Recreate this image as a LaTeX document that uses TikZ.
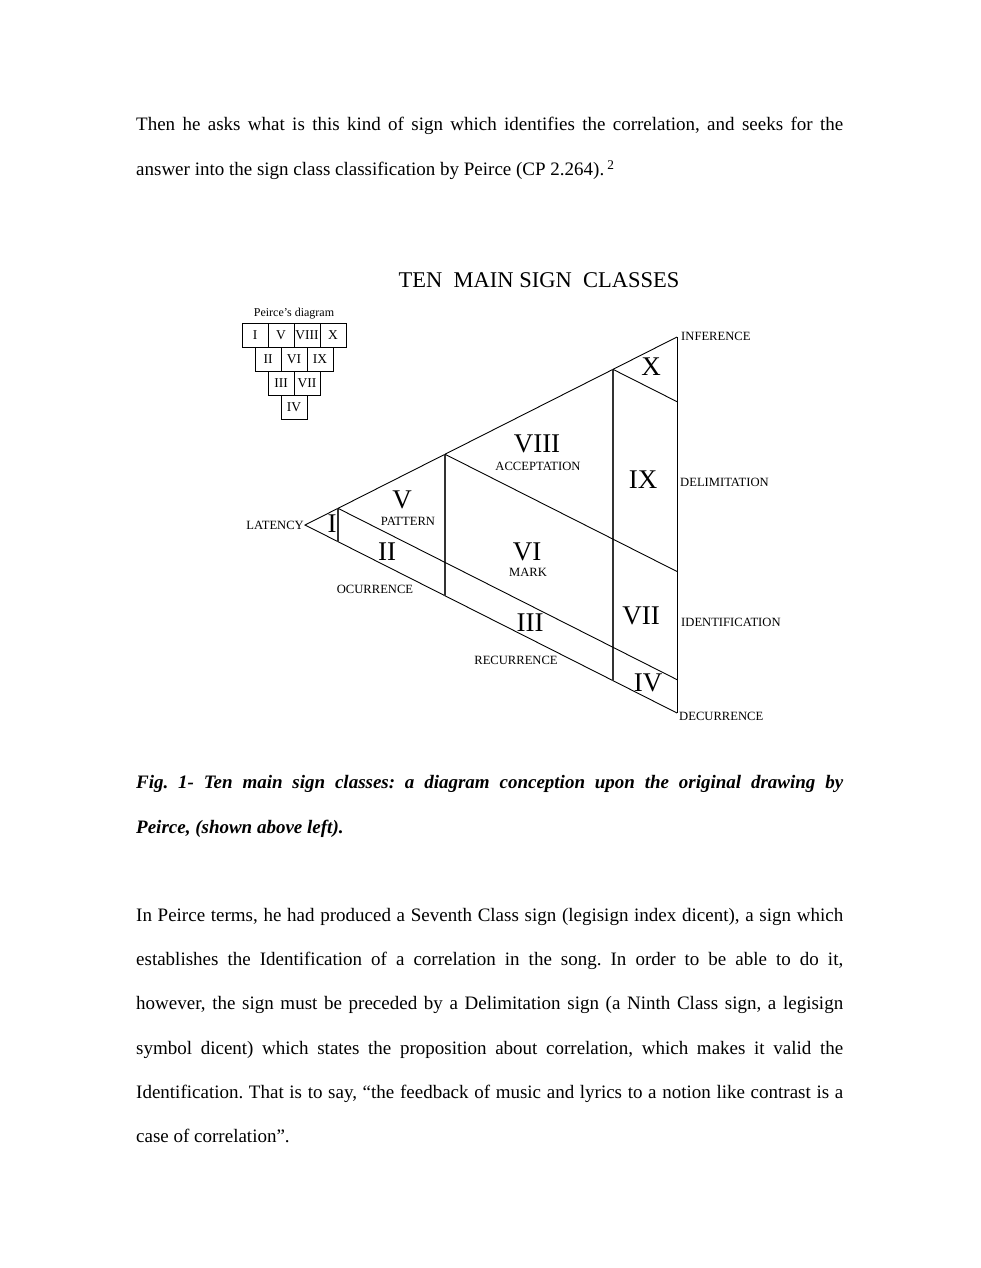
\documentclass[tikz,border=0pt]{standalone}
\usepackage{fontspec}
\setmainfont{Liberation Serif}
\usetikzlibrary{calc}
\frenchspacing
\begin{document}
\begin{tikzpicture}[x=1pt,y=-1pt,
  body/.style={anchor=base west,inner sep=0pt,font=\fontsize{19}{22}\selectfont\frenchspacing},
  captext/.style={anchor=base west,inner sep=0pt,font=\fontsize{19}{22}\selectfont\bfseries\itshape\frenchspacing},
  roman/.style={inner sep=0pt,font=\fontsize{27}{30}\selectfont},
  lbl/.style={inner sep=0pt,font=\fontsize{12.6}{14}\selectfont},
  pbox/.style={draw,line width=0.8pt,minimum width=26pt,minimum height=24pt,inner sep=0pt,font=\fontsize{13.5}{14}\selectfont},
  edgeline/.style={line width=0.9pt},
  vline/.style={line width=1.3pt,black!80}]
\fill[white] (0,0) rectangle (980,1268);
\useasboundingbox (0,0) rectangle (980,1268);

% top paragraph
\node[body] (t1) at (136,131) {\makebox[707pt][s]{Then he asks what is this kind of sign which identifies the correlation, and seeks for the}};
\node[body] (t2) at (136,176) {answer into the sign class classification by Peirce (CP 2.264).\,\textsuperscript{2}};

% title
\node[inner sep=0pt,font=\fontsize{22.5}{24}\selectfont] (title) at (539,280) {TEN\ \ MAIN SIGN\ \ CLASSES};

% Peirce's diagram
\node[inner sep=0pt,font=\fontsize{12}{14}\selectfont,anchor=base] (plabel) at (294,316) {Peirce's diagram};
\node[pbox] (p1) at (255,335) {I};
\node[pbox] (p5) at (281,335) {V};
\node[pbox] (p8) at (307,335) {VIII};
\node[pbox] (p10) at (333,335) {X};
\node[pbox] (p2) at (268,359) {II};
\node[pbox] (p6) at (294,359) {VI};
\node[pbox] (p9) at (320,359) {IX};
\node[pbox] (p3) at (281,383) {III};
\node[pbox] (p7) at (307,383) {VII};
\node[pbox] (p4) at (294,407) {IV};

% triangle
\coordinate (A) at (305,525);
\coordinate (T) at (677,337);
\coordinate (B) at (677,713);
\coordinate (V1t) at ($(A)!0.08871!(T)$);
\coordinate (V1b) at ($(A)!0.08871!(B)$);
\coordinate (V2t) at ($(A)!0.37634!(T)$);
\coordinate (V2b) at ($(A)!0.37634!(B)$);
\coordinate (V3t) at ($(A)!0.82796!(T)$);
\coordinate (V3b) at ($(A)!0.82796!(B)$);
\coordinate (E1) at ($(T)!0.91129!(B)$);
\coordinate (E2) at ($(T)!0.62366!(B)$);
\coordinate (E3) at ($(T)!0.17204!(B)$);

\draw[edgeline] (T) -- (A) -- (B);
\draw[edgeline] (T) -- (B);
\draw[vline] (V1t) -- (V1b);
\draw[vline] (V2t) -- (V2b);
\draw[vline] (V3t) -- (V3b);
\draw[edgeline] (V1t) -- (E1);
\draw[edgeline] (V2t) -- (E2);
\draw[edgeline] (V3t) -- (E3);

% roman numerals
\node[roman] (rI) at (332,524) {I};
\node[roman] (rV) at (402,500) {V};
\node[roman] (rII) at (387,552) {II};
\node[roman] (rVIII) at (537,444) {VIII};
\node[roman] (rVI) at (527,552) {VI};
\node[roman] (rIII) at (530,623) {III};
\node[roman] (rX) at (651,367) {X};
\node[roman] (rIX) at (643,480) {IX};
\node[roman] (rVII) at (641,616) {VII};
\node[roman] (rIV) at (648,683) {IV};

% class labels
\node[lbl] (pattern) at (408,521) {PATTERN};
\node[lbl] (ocur) at (375,589) {OCURRENCE};
\node[lbl] (accept) at (538,466) {ACCEPTATION};
\node[lbl] (mark) at (528,572) {MARK};
\node[lbl] (recur) at (516,660) {RECURRENCE};

% vertex / side labels
\node[lbl,anchor=base east] (latency) at (304,529) {LATENCY};
\node[lbl,anchor=base west] (infer) at (681,340) {INFERENCE};
\node[lbl,anchor=base west] (delim) at (680,486) {DELIMITATION};
\node[lbl,anchor=base west] (ident) at (681,626) {IDENTIFICATION};
\node[lbl,anchor=base west] (decur) at (679,720) {DECURRENCE};

% caption
\node[captext] (c1) at (136,788) {\makebox[707pt][s]{Fig. 1- Ten main sign classes: a diagram conception upon the original drawing by}};
\node[captext] (c2) at (136,833) {Peirce, (shown above left).};

% bottom paragraph
\node[body] (b1) at (136,921) {\makebox[707pt][s]{In Peirce terms, he had produced a Seventh Class sign (legisign index dicent), a sign which}};
\node[body] (b2) at (136,965) {\makebox[707pt][s]{establishes the Identification of a correlation in the song. In order to be able to do it,}};
\node[body] (b3) at (136,1009.5) {\makebox[707pt][s]{however, the sign must be preceded by a Delimitation sign (a Ninth Class sign, a legisign}};
\node[body] (b4) at (136,1054) {\makebox[707pt][s]{symbol dicent) which states the proposition about correlation, which makes it valid the}};
\node[body] (b5) at (136,1098) {\makebox[707pt][s]{Identification. That is to say, “the feedback of music and lyrics to a notion like contrast is a}};
\node[body] (b6) at (136,1142) {case of correlation”.};
\end{tikzpicture}
\end{document}
